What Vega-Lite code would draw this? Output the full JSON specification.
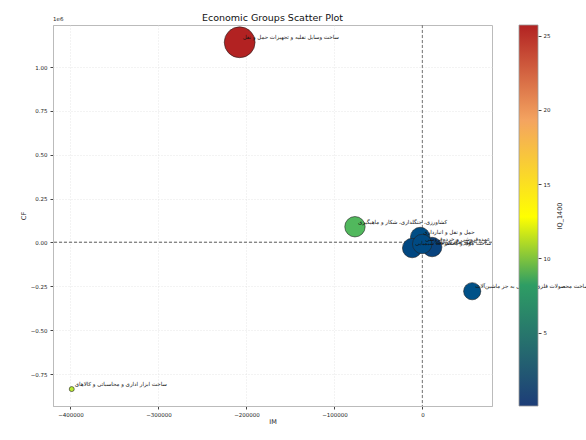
{
  "$schema": "https://vega.github.io/schema/vega-lite/v6.json",
  "background": "white",
  "padding": {"left": 19, "top": 12, "right": 5, "bottom": 5},
  "bounds": "flush",
  "spacing": 27,
  "config": {
    "font": "DejaVu Sans",
    "axis": {"labelFont": "DejaVu Sans", "titleFont": "DejaVu Sans", "labelFontSize": 5.5, "titleFontSize": 6.5, "titleFontWeight": "normal", "labelColor": "#222", "titleColor": "#222", "tickColor": "#444", "tickSize": 3, "domainColor": "#bbb"},
    "view": {"stroke": "#bbb"}
  },
  "hconcat": [
    {
      "width": 439,
      "height": 381,
      "title": {"text": "Economic Groups Scatter Plot", "fontSize": 9.5, "fontWeight": "normal", "font": "DejaVu Sans", "color": "#111", "offset": -5},
      "data": {"values": [
        {"Group": "ساخت وسایل نقلیه و تجهیزات حمل و نقل", "IM": -207700, "CF": 1141000, "IQ_1400": 25.72, "Volume": 9.5},
        {"Group": "کشاورزی، جنگلداری، شکار و ماهیگیری", "IM": -76700, "CF": 89500, "IQ_1400": 9.3, "Volume": 4.15},
        {"Group": "حمل و نقل و انبارداری", "IM": -2600, "CF": 30800, "IQ_1400": 1.2, "Volume": 3.8},
        {"Group": "ساخت مواد و محصولات شیمیایی", "IM": -11700, "CF": -31900, "IQ_1400": 0.8, "Volume": 3.8},
        {"Group": "امور مالی و بیمه", "IM": 11000, "CF": -26200, "IQ_1400": 0.5, "Volume": 3.8},
        {"Group": "عمده‌فروشی و خرده‌فروشی", "IM": -300, "CF": -9100, "IQ_1400": 1.0, "Volume": 3.8},
        {"Group": "ساخت محصولات فلزی فابریکی به جز ماشین‌آلات", "IM": 56500, "CF": -278200, "IQ_1400": 1.5, "Volume": 2.95},
        {"Group": "ساخت ابزار اداری و محاسباتی و کالاهای", "IM": -398500, "CF": -836000, "IQ_1400": 11.6, "Volume": 0.25}
      ]},
      "layer": [
        {
          "mark": {"type": "rule", "color": "#888", "strokeDash": [3, 2], "strokeWidth": 0.8},
          "encoding": {
            "y": {"datum": 0, "type": "quantitative"}
          }
        },
        {
          "mark": {"type": "rule", "color": "#888", "strokeDash": [3, 2], "strokeWidth": 0.8},
          "encoding": {
            "x": {"datum": 0, "type": "quantitative"}
          }
        },
        {
          "mark": {"type": "circle", "opacity": 1, "stroke": "#222", "strokeWidth": 0.6},
          "encoding": {
            "x": {"field": "IM", "type": "quantitative", "scale": {"domain": [-419800, 79000], "nice": false, "zero": false},
              "axis": {"values": [-400000, -300000, -200000, -100000, 0], "format": "d", "title": "IM", "titlePadding": 1, "labelPadding": 3, "grid": true, "gridColor": "#ddd", "gridDash": [1, 2], "gridWidth": 0.7}},
            "y": {"field": "CF", "type": "quantitative", "scale": {"domain": [-932400, 1239500], "nice": false, "zero": false},
              "axis": {"values": [-750000, -500000, -250000, 0, 250000, 500000, 750000, 1000000], "labelExpr": "format(datum.value / 1000000, '.2f')", "title": "CF", "titlePadding": 4, "labelPadding": 3, "grid": true, "gridColor": "#ddd", "gridDash": [1, 2], "gridWidth": 0.7}},
            "size": {"field": "Volume", "type": "quantitative", "scale": {"domain": [0, 10], "range": [0, 1000]}, "legend": null},
            "color": {"field": "IQ_1400", "type": "quantitative", "scale": {"domain": [0.06, 8.2, 12.8, 19.3, 25.72], "range": ["#1d3d78", "#2e9d64", "#ffff00", "#f4a460", "#b22222"]}, "legend": null}
          }
        },
        {
          "mark": {"type": "text", "align": "left", "baseline": "middle", "dx": 3, "dy": -5, "fontSize": 5.5, "font": "DejaVu Sans", "color": "#111"},
          "encoding": {
            "x": {"field": "IM", "type": "quantitative"},
            "y": {"field": "CF", "type": "quantitative"},
            "text": {"field": "Group"}
          }
        },
        {
          "data": {"values": [{"note": "1e6"}]},
          "mark": {"type": "text", "align": "left", "baseline": "bottom", "dy": -3, "fontSize": 5.5, "font": "DejaVu Sans", "color": "#222"},
          "encoding": {
            "x": {"datum": -419800, "type": "quantitative"},
            "y": {"datum": 1239500, "type": "quantitative"},
            "text": {"field": "note"}
          }
        }
      ]
    },
    {
      "width": 19,
      "height": 381,
      "view": {"stroke": null},
      "data": {"values": [{"lo": 0.06, "hi": 25.72}]},
      "mark": {"type": "rect", "stroke": "#999", "strokeWidth": 0.8,
        "color": {"gradient": "linear", "x1": 0, "y1": 1, "x2": 0, "y2": 0, "stops": [
          {"offset": 0, "color": "#1d3d78"},
          {"offset": 0.3173, "color": "#2e9d64"},
          {"offset": 0.4966, "color": "#ffff00"},
          {"offset": 0.7498, "color": "#f4a460"},
          {"offset": 1, "color": "#b22222"}
        ]}},
      "encoding": {
        "y": {"field": "lo", "type": "quantitative", "scale": {"domain": [0.06, 25.72], "nice": false, "zero": false},
          "axis": {"orient": "right", "values": [5, 10, 15, 20, 25], "title": "IQ_1400", "titleAngle": 270, "titlePadding": 13, "labelPadding": 2, "grid": false, "domain": false}},
        "y2": {"field": "hi"}
      }
    }
  ]
}
